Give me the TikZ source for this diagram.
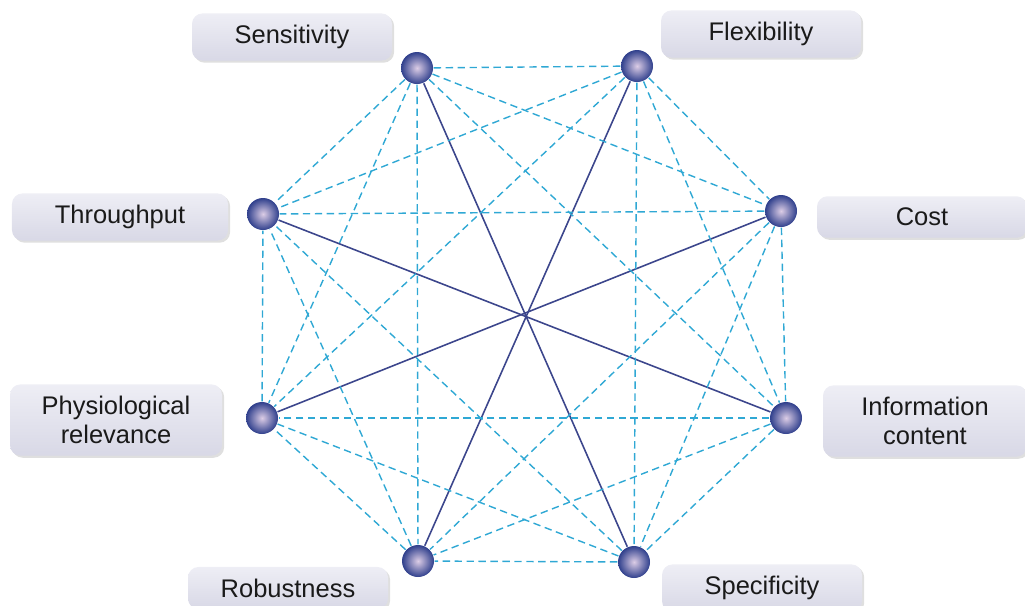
\documentclass[tikz,border=0pt]{standalone}
\usepackage{fontspec}
\setmainfont{Liberation Sans}
\usepackage{tikz}
\usetikzlibrary{positioning,shadows}
\definecolor{ink}{HTML}{1A1A1A}
\definecolor{navy}{HTML}{3C468C}
\definecolor{sky}{HTML}{2FA8D4}
\definecolor{ballOut}{HTML}{2F3F8C}
\definecolor{ballIn}{HTML}{DCCDE6}
\definecolor{boxTop}{HTML}{EEEEF5}
\definecolor{boxBot}{HTML}{D8D8E6}
\tikzset{
  ball/.style={circle, minimum size=0.32cm, inner sep=0pt,
               shading=radial, inner color=ballIn, outer color=ballOut},
  tag/.style={rectangle, rounded corners=3pt, top color=boxTop, bottom color=boxBot,
              minimum width=2.0cm, minimum height=0.41cm,
              align=center, text=ink, font=\fontsize{7.25}{8.3}\selectfont,
              drop shadow={shadow xshift=0.6pt, shadow yshift=-0.6pt, opacity=0.25}},
  link/.style={draw=navy, line width=0.45pt},
  cross/.style={draw=sky, line width=0.4pt, dash pattern=on 2.1pt off 1.3pt}
}
\begin{document}
\begin{tikzpicture}
\useasboundingbox (0,0) rectangle (10.25,6.05);
% criteria
\node[ball] (sens) at (4.17,5.37) {};
\node[ball] (flex) at (6.37,5.39) {};
\node[ball] (cost) at (7.81,3.94) {};
\node[ball] (info) at (7.86,1.87) {};
\node[ball] (spec) at (6.34,0.43) {};
\node[ball] (robu) at (4.18,0.44) {};
\node[ball] (phys) at (2.62,1.87) {};
\node[ball] (thru) at (2.63,3.91) {};
% labels
\node[tag] (sensLabel) at (2.92,5.68) {Sensitivity};
\node[tag] (flexLabel) at (7.61,5.71) {Flexibility};
\node[tag, minimum width=2.16cm] (thruLabel) at (1.20,3.88) {Throughput};
\node[tag, minimum width=2.10cm] (costLabel) at (9.22,3.88) {Cost};
\node[tag, minimum width=2.12cm, minimum height=0.69cm] (physLabel) at (1.16,1.85) {Physiological\\relevance};
\node[tag, minimum width=2.04cm, minimum height=0.69cm] (infoLabel) at (9.25,1.84) {Information\\content};
\node[tag] (robuLabel) at (2.88,0.17) {Robustness};
\node[tag] (specLabel) at (7.62,0.17) {Specificity};
% opposite pairs
\draw[link] (sens) -- (spec);
\draw[link] (flex) -- (robu);
\draw[link] (cost) -- (phys);
\draw[link] (thru) -- (info);
% all other pairs
\draw[cross] (sens) -- (flex);
\draw[cross] (sens) -- (cost);
\draw[cross] (sens) -- (info);
\draw[cross] (sens) -- (robu);
\draw[cross] (sens) -- (phys);
\draw[cross] (sens) -- (thru);
\draw[cross] (flex) -- (cost);
\draw[cross] (flex) -- (info);
\draw[cross] (flex) -- (spec);
\draw[cross] (flex) -- (phys);
\draw[cross] (flex) -- (thru);
\draw[cross] (cost) -- (info);
\draw[cross] (cost) -- (spec);
\draw[cross] (cost) -- (robu);
\draw[cross] (cost) -- (thru);
\draw[cross] (info) -- (spec);
\draw[cross] (info) -- (robu);
\draw[cross] (info) -- (phys);
\draw[cross] (spec) -- (robu);
\draw[cross] (spec) -- (phys);
\draw[cross] (spec) -- (thru);
\draw[cross] (robu) -- (phys);
\draw[cross] (robu) -- (thru);
\draw[cross] (phys) -- (thru);
\end{tikzpicture}
\end{document}
